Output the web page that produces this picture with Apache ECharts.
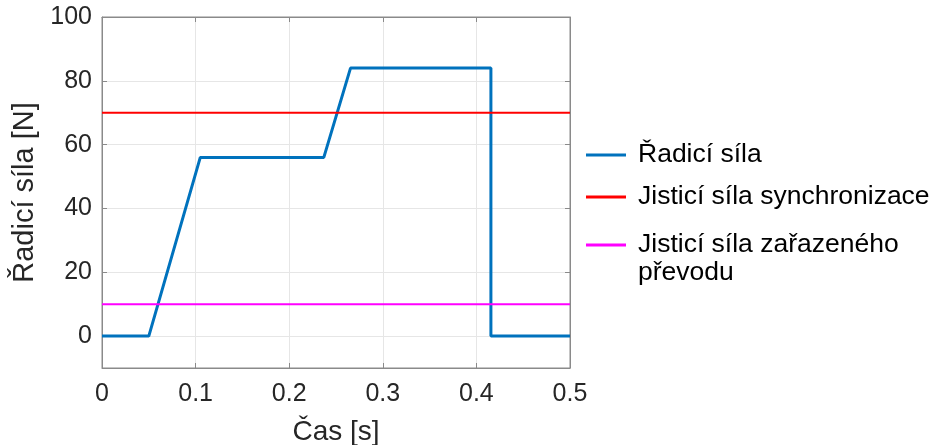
<!DOCTYPE html>
<html>
<head>
<meta charset="utf-8">
<script src="https://cdn.jsdelivr.net/npm/echarts@6/dist/echarts.min.js"></script>
<style>
  html, body { margin: 0; padding: 0; background: #fff; }
  #chart { width: 931px; height: 445px; }
</style>
</head>
<body>
<div id="chart"></div>
<script>
// řadicí síla (blue), body průběhu
const timeS = [0, 0.05, 0.105, 0.237, 0.2655, 0.4155, 0.4155, 0.5];
const shiftForce = [0, 0, 56, 56, 84, 84, 0, 0];
// konstantní meze
const limitTime = [0, 0.5];
const syncForce = [70, 70];
const gearForce = [10, 10];

const xTicks = [0, 0.1, 0.2, 0.3, 0.4, 0.5];
const yTicks = [0, 20, 40, 60, 80, 100];

const names = ["Řadicí síla", "Jisticí síla synchronizace", "Jisticí síla zařazeného\npřevodu"];

const pairs = (xs, ys) => xs.map((x, i) => [x, ys[i]]);

const font = "Liberation Sans, Arial, sans-serif";
const labelColor = "#262626";
const boxColor = "#8a8a8a";
const gridColor = "#e6e6e6";

const chartDom = echarts.init(document.getElementById("chart"));

const boxLine = { show: true, onZero: false, lineStyle: { color: boxColor, width: 1 } };
const tickIn = { show: true, inside: true, length: 5, lineStyle: { color: boxColor } };
const legendText = { fontSize: 26.5, lineHeight: 28, color: "#000", padding: [0, 0, 0, 7] };

chartDom.setOption({
  animation: false,
  textStyle: { fontFamily: font },
  grid: {
    left: 102,
    right: 361,
    top: 17,
    bottom: 77,
    outerBoundsMode: "none",
    containLabel: false,
    show: true,
    borderColor: boxColor,
    borderWidth: 1
  },
  legend: [
    {
      data: [names[0], names[1]],
      orient: "vertical",
      left: 586,
      top: 141,
      padding: 0,
      itemGap: 14,
      icon: "rect",
      itemWidth: 40,
      itemHeight: 3,
      textStyle: legendText
    },
    {
      // prázdný první řádek: značka vychází na úroveň prvního řádku textu
      data: [names[2]],
      orient: "vertical",
      left: 586,
      top: 203,
      padding: 0,
      icon: "rect",
      itemWidth: 40,
      itemHeight: 3,
      formatter: name => "\n" + name,
      textStyle: legendText
    }
  ],
  xAxis: [
    {
      type: "value",
      min: 0,
      max: 0.5,
      interval: 0.1,
      name: "Čas [s]",
      nameLocation: "middle",
      nameGap: 50,
      nameTextStyle: { fontSize: 28, color: labelColor },
      axisLabel: {
        fontSize: 25,
        color: labelColor,
        margin: 14,
        formatter: v => String(+v.toFixed(1))
      },
      splitLine: { show: true, lineStyle: { color: gridColor } },
      axisLine: boxLine,
      axisTick: tickIn
    },
    {
      type: "value",
      position: "top",
      min: 0,
      max: 0.5,
      interval: 0.1,
      axisLabel: { show: false },
      splitLine: { show: false },
      axisLine: boxLine,
      axisTick: tickIn
    }
  ],
  yAxis: [
    {
      type: "value",
      min: -10,
      max: 100,
      name: "Řadicí síla [N]",
      nameLocation: "middle",
      nameGap: 58,
      nameTextStyle: { fontSize: 29, color: labelColor },
      axisLabel: {
        fontSize: 25,
        color: labelColor,
        margin: 10,
        customValues: yTicks
      },
      axisTick: { ...tickIn, customValues: yTicks },
      splitLine: { show: true, lineStyle: { color: gridColor } },
      axisLine: boxLine
    },
    {
      type: "value",
      position: "right",
      min: -10,
      max: 100,
      axisLabel: { show: false },
      axisTick: { ...tickIn, customValues: yTicks },
      splitLine: { show: false },
      axisLine: boxLine
    }
  ],
  series: [
    {
      name: names[0],
      type: "line",
      symbol: "none",
      data: pairs(timeS, shiftForce),
      lineStyle: { color: "#0072BD", width: 3 },
      itemStyle: { color: "#0072BD" },
      z: 2
    },
    {
      name: names[1],
      type: "line",
      symbol: "none",
      data: pairs(limitTime, syncForce),
      lineStyle: { color: "#FF0000", width: 2 },
      itemStyle: { color: "#FF0000" },
      z: 3
    },
    {
      name: names[2],
      type: "line",
      symbol: "none",
      data: pairs(limitTime, gearForce),
      lineStyle: { color: "#FF00FF", width: 2 },
      itemStyle: { color: "#FF00FF" },
      z: 3
    }
  ]
});
</script>
</body>
</html>
